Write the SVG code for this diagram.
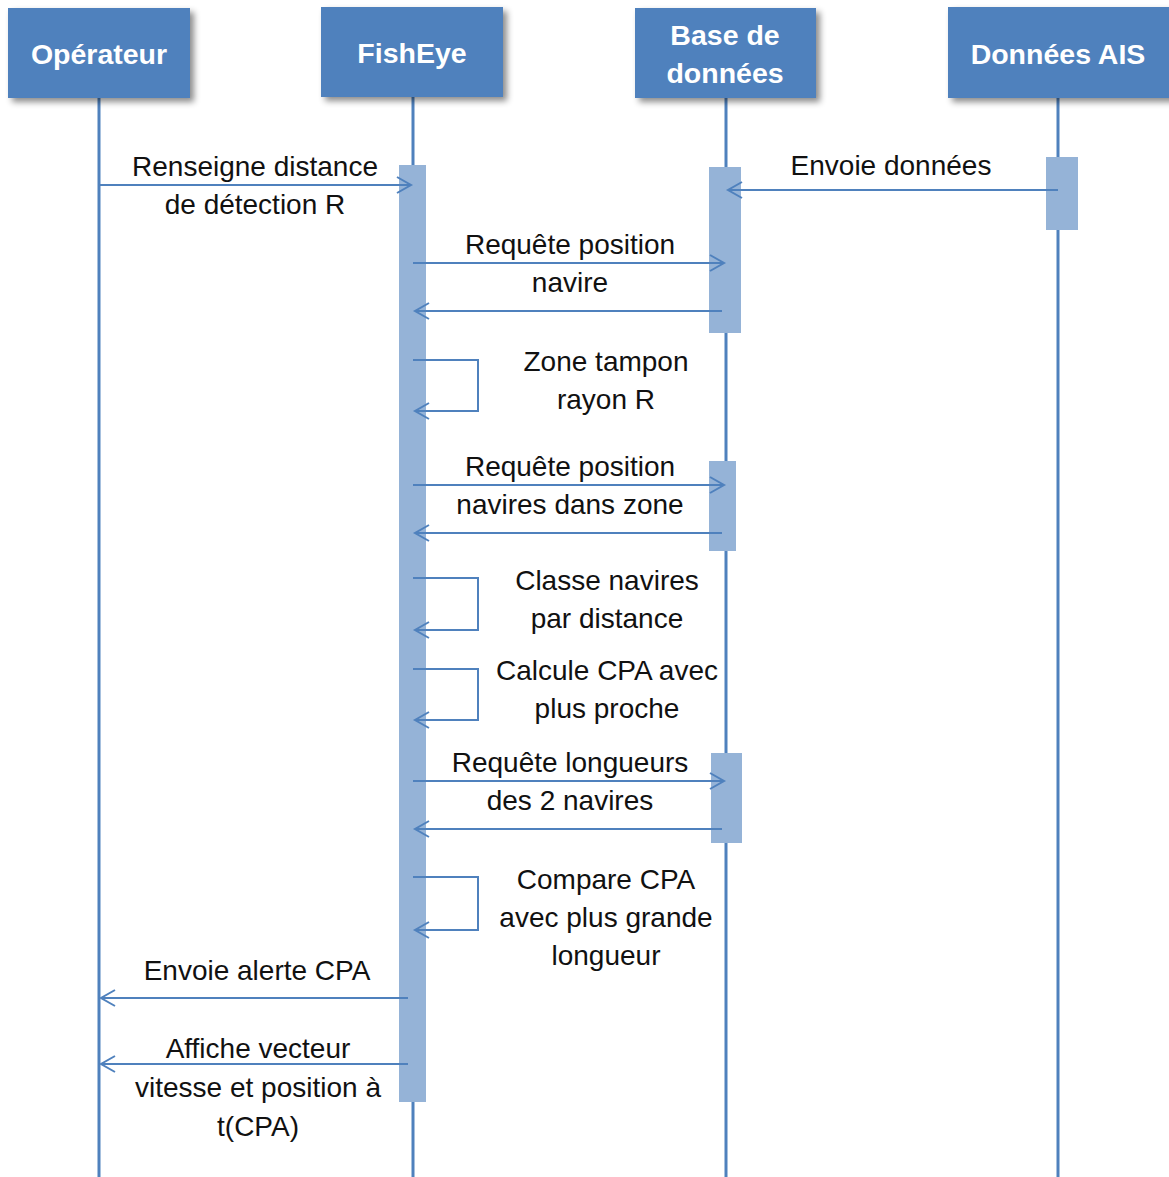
<svg xmlns="http://www.w3.org/2000/svg" width="1169" height="1177" viewBox="0 0 1169 1177">
<defs>
<filter id="sh" x="-10%" y="-10%" width="130%" height="140%">
<feDropShadow dx="4" dy="4" stdDeviation="3" flood-color="#000" flood-opacity="0.45"/>
</filter>
<marker id="ah" markerUnits="userSpaceOnUse" markerWidth="20" markerHeight="20" viewBox="-16 -10 20 20" refX="0" refY="0" orient="auto">
<path d="M-14,-8 L0,0 L-14,8" fill="none" stroke="#4f81bd" stroke-width="2"/>
</marker>
<style>
.hdr{fill:#4f81bd;filter:url(#sh)}
.ht{font-family:"Liberation Sans",Arial,sans-serif;font-weight:bold;font-size:28.5px;fill:#fff;text-anchor:middle}
.life{stroke:#4f81bd;stroke-width:3;fill:none}
.act{fill:#95b3d7}
.msg{stroke:#4f81bd;stroke-width:2;fill:none;marker-end:url(#ah)}
.t{font-family:"Liberation Sans",Arial,sans-serif;font-size:28px;fill:#111;text-anchor:middle}
</style>
</defs>
<rect width="1169" height="1177" fill="#fff"/>

<g id="lifelines">
<line class="life" x1="99" y1="98" x2="99" y2="1177"/>
<line class="life" x1="413" y1="97" x2="413" y2="1177"/>
<line class="life" x1="726" y1="98" x2="726" y2="1177"/>
<line class="life" x1="1058" y1="98" x2="1058" y2="1177"/>
</g>

<g id="activations">
<rect class="act" x="399" y="165" width="27" height="937"/>
<rect class="act" x="709" y="167" width="32" height="166"/>
<rect class="act" x="709" y="461" width="27" height="90"/>
<rect class="act" x="711" y="753" width="31" height="90"/>
<rect class="act" x="1046" y="157" width="32" height="73"/>
</g>

<g id="node-operateur">
<rect class="hdr" x="8" y="8" width="182" height="90"/>
<text class="ht" x="99" y="64">Opérateur</text>
</g>
<g id="node-fisheye">
<rect class="hdr" x="321" y="7" width="182" height="90"/>
<text class="ht" x="412" y="63">FishEye</text>
</g>
<g id="node-base">
<rect class="hdr" x="635" y="8" width="181" height="90"/>
<text class="ht" x="725" y="45">Base de</text>
<text class="ht" x="725" y="83">données</text>
</g>
<g id="node-ais">
<rect class="hdr" x="948" y="7" width="225" height="91"/>
<text class="ht" x="1058" y="64">Données AIS</text>
</g>

<g id="connectors">
<line class="msg" x1="99" y1="185" x2="411" y2="185"/>
<line class="msg" x1="1058" y1="190" x2="728" y2="190"/>
<line class="msg" x1="413" y1="263" x2="724" y2="263"/>
<line class="msg" x1="722" y1="311" x2="415" y2="311"/>
<path class="msg" d="M413,360 H478 V411 H415"/>
<line class="msg" x1="413" y1="485" x2="724" y2="485"/>
<line class="msg" x1="722" y1="533" x2="415" y2="533"/>
<path class="msg" d="M413,578 H478 V630 H415"/>
<path class="msg" d="M413,669 H478 V720 H415"/>
<line class="msg" x1="413" y1="781" x2="724" y2="781"/>
<line class="msg" x1="722" y1="829" x2="415" y2="829"/>
<path class="msg" d="M413,877 H478 V930 H415"/>
<line class="msg" x1="408" y1="998" x2="101" y2="998"/>
<line class="msg" x1="408" y1="1064" x2="101" y2="1064"/>
</g>

<g id="labels">
<text class="t" x="255" y="176">Renseigne distance</text>
<text class="t" x="255" y="214">de détection R</text>
<text class="t" x="891" y="175">Envoie données</text>
<text class="t" x="570" y="254">Requête position</text>
<text class="t" x="570" y="292">navire</text>
<text class="t" x="606" y="371">Zone tampon</text>
<text class="t" x="606" y="409">rayon R</text>
<text class="t" x="570" y="476">Requête position</text>
<text class="t" x="570" y="514">navires dans zone</text>
<text class="t" x="607" y="590">Classe navires</text>
<text class="t" x="607" y="628">par distance</text>
<text class="t" x="607" y="680">Calcule CPA avec</text>
<text class="t" x="607" y="718">plus proche</text>
<text class="t" x="570" y="772">Requête longueurs</text>
<text class="t" x="570" y="810">des 2 navires</text>
<text class="t" x="606" y="889">Compare CPA</text>
<text class="t" x="606" y="927">avec plus grande</text>
<text class="t" x="606" y="965">longueur</text>
<text class="t" x="257" y="980">Envoie alerte CPA</text>
<text class="t" x="258" y="1058">Affiche vecteur</text>
<text class="t" x="258" y="1097">vitesse et position à</text>
<text class="t" x="258" y="1136">t(CPA)</text>
</g>
</svg>
